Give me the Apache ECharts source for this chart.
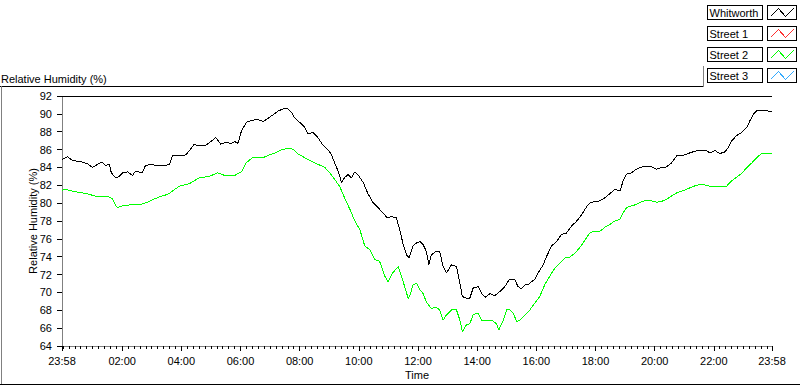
<!DOCTYPE html>
<html>
<head>
<meta charset="utf-8">
<script src="https://cdn.jsdelivr.net/npm/echarts@6/dist/echarts.min.js"></script>
<style>
  html, body { margin: 0; padding: 0; background: #fff; }
  #chart { width: 800px; height: 386px; }
  #chart svg path { shape-rendering: crispEdges; }
</style>
</head>
<body>
<div id="chart"></div>
<script>
// minutes after 23:58 (start of the record)
const whitworthMin = [0,11,21,31,42,52,62,72,82,88,96,100,109,116,123,133,143,149,163,169,180,194,207,218,224,238,251,258,268,278,292,302,312,322,332,343,350,357,364,374,387,397,408,418,428,438,448,458,465,472,482,492,499,509,519,529,538,546,553,560,567,573,580,587,594,600,611,621,631,641,651,660,668,678,685,692,699,704,712,719,726,732,739,744,749,759,766,773,780,790,800,807,812,820,827,834,844,851,858,868,878,888,898,908,918,925,932,939,945,952,959,966,976,983,993,1003,1013,1023,1033,1044,1054,1064,1071,1081,1091,1101,1111,1121,1132,1138,1145,1155,1165,1176,1186,1196,1206,1216,1226,1236,1247,1257,1267,1277,1287,1297,1307,1314,1324,1334,1345,1351,1358,1368,1378,1389,1395,1402,1409,1419,1429,1440];
const whitworthRH = [84.9,85.2,84.8,84.7,84.6,84.4,84.0,84.35,84.6,84.2,84.4,83.4,82.8,83.0,83.4,83.5,83.1,83.6,83.4,84.2,84.35,84.2,84.2,84.35,85.3,85.3,85.4,85.85,86.6,86.4,86.5,86.9,87.35,86.6,86.8,86.7,86.9,86.7,88.1,89.05,89.3,89.35,89.15,89.5,89.9,90.3,90.55,90.55,90.2,89.55,89.05,88.5,87.8,87.9,87.35,86.5,86.05,85.5,84.5,83.6,82.3,82.85,83.2,82.85,83.5,83.2,82.3,81.0,80.05,79.5,78.9,78.35,78.5,78.35,77.05,75.35,74.2,73.85,75.2,75.55,75.7,75.4,74.6,73.1,74.2,74.6,74.6,72.9,72.2,73.1,72.9,71.05,69.55,69.35,69.35,70.5,70.65,69.9,69.45,69.85,69.65,70.1,70.65,71.5,71.45,70.65,70.4,70.85,70.85,71.2,71.45,72.2,73.1,74.05,75.2,75.7,76.5,76.65,77.4,78.0,78.7,79.6,80.05,80.2,80.25,80.6,81.05,81.55,81.35,82.5,83.25,83.4,83.8,84.05,84.15,84.05,83.8,84.0,84.05,84.5,85.3,85.3,85.5,85.7,85.85,85.95,85.9,85.6,85.9,85.55,85.75,86.2,86.97,87.55,87.9,88.5,89.2,89.95,90.35,90.35,90.35,90.25];

const street2Min = [0,11,21,36,52,66,82,92,102,109,113,123,143,159,174,184,198,215,224,238,259,279,299,316,330,350,364,374,387,408,418,431,448,462,468,479,492,506,519,533,543,553,563,573,584,594,604,614,624,634,644,655,661,671,682,692,702,705,712,719,726,732,739,749,759,766,773,780,790,800,807,812,820,827,834,844,851,861,871,881,886,895,902,908,915,922,929,939,949,959,969,979,989,1000,1010,1020,1030,1040,1050,1060,1071,1081,1091,1101,1111,1121,1132,1138,1145,1155,1165,1176,1186,1196,1206,1216,1226,1236,1247,1257,1267,1277,1287,1297,1307,1318,1328,1338,1348,1358,1368,1378,1389,1399,1409,1419,1429,1440];
const street2RH = [81.46,81.5,81.35,81.2,81.05,80.8,80.7,80.8,80.5,79.7,79.5,79.7,79.85,79.85,80.1,80.4,80.7,81.0,81.35,81.9,82.2,82.85,83.0,83.4,83.1,83.1,83.5,84.55,85.1,85.1,85.35,85.6,86.05,86.1,86.05,85.5,85.1,84.7,84.35,84.0,83.4,82.65,81.9,80.6,79.3,78.0,77.05,75.2,74.8,73.7,73.5,71.8,71.2,72.2,72.9,71.2,69.35,69.55,70.85,71.05,70.3,69.9,68.95,68.2,68.35,68.05,66.9,67.5,68.05,68.05,66.9,65.6,66.35,66.5,67.5,67.7,66.9,66.8,66.9,66.5,65.8,66.9,68.05,68.1,67.7,66.75,66.9,67.5,68.05,68.8,69.55,70.85,71.8,72.75,73.3,73.85,73.95,74.4,75.0,75.8,76.7,76.85,76.85,77.3,77.6,78.0,78.2,78.9,79.5,79.7,79.85,80.2,80.3,80.25,80.1,80.2,80.4,80.8,81.15,81.35,81.55,81.8,82.0,82.1,82.0,81.85,81.85,81.85,81.9,82.5,82.9,83.3,84.0,84.5,85.1,85.55,85.55,85.55];

const seriesNames = ['Whitworth', 'Street 1', 'Street 2', 'Street 3'];
const seriesColors = ['#000000', '#ff3030', '#00ff00', '#33aaff'];

const tickMinutes = [0, 122, 242, 362, 482, 602, 722, 842, 962, 1082, 1202, 1322, 1440];
const tickLabels = ['23:58', '02:00', '04:00', '06:00', '08:00', '10:00', '12:00', '14:00', '16:00', '18:00', '20:00', '22:00', '23:58'];

const minorTicks = [];
for (let m = 2; m < 1440; m += 12) minorTicks.push(m);

const FONT = 'Liberation Sans';
const zip = (xs, ys) => xs.map((x, i) => [x, ys[i]]);
const seriesData = [zip(whitworthMin, whitworthRH), [], zip(street2Min, street2RH), []];

const chart = echarts.init(document.getElementById('chart'), null, { renderer: 'svg' });

// two stacked legends: boxes + names underneath, coloured zigzag icons on top
const legendText = (color, border) => ({
  fontFamily: FONT, fontSize: 11, color: color,
  padding: [0, 2], borderColor: border, borderWidth: 1,
  rich: { n: { width: 51, height: 14, lineHeight: 14, align: 'left', fontFamily: FONT, fontSize: 11, color: color } }
});

const option = {
  animation: false,
  backgroundColor: '#fff',
  textStyle: { fontFamily: FONT },
  title: {
    text: 'Relative Humidity (%)',
    left: -4,
    top: 68,
    textStyle: { fontFamily: FONT, fontSize: 11, fontWeight: 'normal', color: '#000' }
  },
  legend: [
    {
      z: 2, orient: 'vertical', right: 3, top: 5, padding: 0, itemGap: 6,
      itemWidth: 29, itemHeight: 14, align: 'right', selectedMode: false,
      icon: 'rect',
      itemStyle: { color: '#fff', borderColor: '#000', borderWidth: 1 },
      formatter: name => '{n|' + name + '}',
      textStyle: legendText('#000', '#000'),
      data: seriesNames
    },
    {
      z: 3, orient: 'vertical', right: 6, top: 5, padding: 0, itemGap: 6,
      itemWidth: 23, itemHeight: 8, align: 'right', selectedMode: false,
      icon: 'path://M0,8L8,0L15,8L23,0',
      itemStyle: { color: 'rgba(0,0,0,0)', borderWidth: 1 },
      formatter: () => '{n| }',
      textStyle: legendText('rgba(0,0,0,0)', 'rgba(0,0,0,0)'),
      data: seriesNames.map((n, i) => ({ name: n, itemStyle: { color: 'rgba(0,0,0,0)', borderColor: seriesColors[i], borderWidth: 1 } }))
    }
  ],
  grid: { left: 62, right: 28, top: 96, bottom: 40, containLabel: false },
  xAxis: [
    {
      type: 'value', min: 0, max: 1440, position: 'bottom',
      name: 'Time', nameLocation: 'middle', nameGap: 23, nameMoveOverlap: false,
      nameTextStyle: { fontFamily: FONT, fontSize: 11, color: '#000' },
      axisLine: { show: true, lineStyle: { color: '#808080', width: 1 } },
      axisTick: { show: true, length: 5, lineStyle: { color: '#000' }, customValues: tickMinutes },
      axisLabel: {
        margin: 9, fontFamily: FONT, fontSize: 11, color: '#000',
        customValues: tickMinutes,
        formatter: v => tickLabels[tickMinutes.indexOf(v)] || ''
      },
      splitLine: { show: false }
    },
    {
      type: 'value', min: 0, max: 1440, position: 'bottom',
      axisLine: { show: false },
      axisTick: { show: true, length: 3, lineStyle: { color: '#000' }, customValues: minorTicks },
      axisLabel: { show: false },
      splitLine: { show: false }
    },
    {
      type: 'value', min: 0, max: 1440, position: 'top',
      axisLine: { show: true, lineStyle: { color: '#000', width: 1 } },
      axisTick: { show: false }, axisLabel: { show: false }, splitLine: { show: false }
    }
  ],
  yAxis: [
    {
      type: 'value', min: 64, max: 92, interval: 2, position: 'left',
      name: 'Relative Humidity (%)', nameLocation: 'middle', nameGap: 24, nameMoveOverlap: false,
      nameTextStyle: { fontFamily: FONT, fontSize: 11, color: '#000' },
      axisLine: { show: true, lineStyle: { color: '#000', width: 1 } },
      axisTick: { show: true, length: 5, lineStyle: { color: '#000' } },
      axisLabel: { margin: 10, fontFamily: FONT, fontSize: 11, color: '#000' },
      splitLine: { show: false }
    },
    {
      type: 'value', min: 64, max: 92, position: 'right',
      axisLine: { show: true, lineStyle: { color: '#808080', width: 1 } },
      axisTick: { show: false }, axisLabel: { show: false }, splitLine: { show: false }
    }
  ],
  series: seriesNames.map((name, i) => ({
    name: name,
    type: 'line',
    xAxisIndex: 0,
    yAxisIndex: 0,
    data: seriesData[i],
    showSymbol: false,
    symbol: 'none',
    color: seriesColors[i],
    lineStyle: { color: seriesColors[i], width: 1 },
    emphasis: { disabled: true }
  })),
  graphic: [
    // panel frame around the plot area
    { type: 'line', shape: { x1: 0, y1: 86.5, x2: 703, y2: 86.5 }, style: { stroke: '#000', lineWidth: 1 } },
    { type: 'line', shape: { x1: 1.5, y1: 86, x2: 1.5, y2: 385 }, style: { stroke: '#808080', lineWidth: 1 } },
    { type: 'line', shape: { x1: 0, y1: 384.5, x2: 800, y2: 384.5 }, style: { stroke: '#000', lineWidth: 1 } },
    { type: 'line', shape: { x1: 703.5, y1: 66, x2: 703.5, y2: 87 }, style: { stroke: '#808080', lineWidth: 1 } }
  ]
};

chart.setOption(option);
</script>
</body>
</html>
